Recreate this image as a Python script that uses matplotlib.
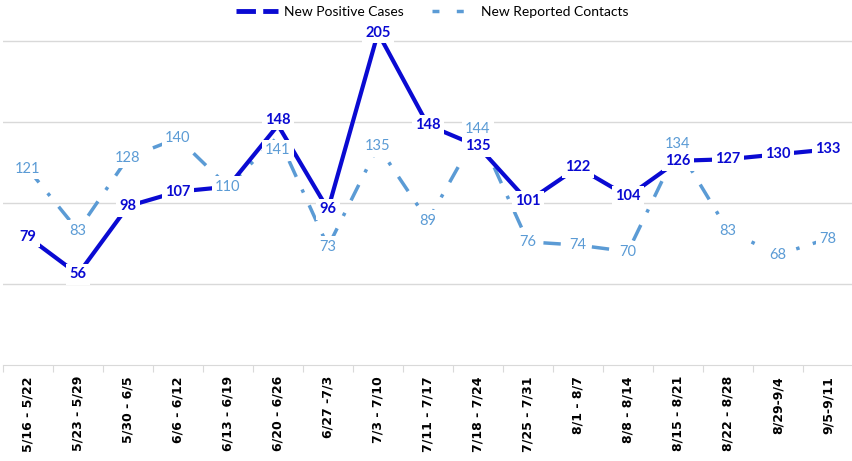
import matplotlib
matplotlib.use('Agg')
import matplotlib.pyplot as plt
from matplotlib.lines import Line2D
import numpy as np

weeks = ['5/16 - 5/22', '5/23 - 5/29', '5/30 - 6/5', '6/6 - 6/12', '6/13 - 6/19',
         '6/20 - 6/26', '6/27 -7/3', '7/3 - 7/10', '7/11 - 7/17', '7/18 - 7/24',
         '7/25 - 7/31', '8/1 - 8/7', '8/8 - 8/14', '8/15 - 8/21', '8/22 - 8/28',
         '8/29-9/4', '9/5-9/11']
positive = [79, 56, 98, 107, 110, 148, 96, 205, 148, 135, 101, 122, 104, 126, 127, 130, 133]
contacts = [121, 83, 128, 140, 110, 141, 73, 135, 89, 144, 76, 74, 70, 134, 83, 68, 78]

dark = '#0A0AD2'
light = '#5B9BD5'

fig = plt.figure(figsize=(8.53, 4.61), dpi=100)
ax = fig.add_axes([3/853, 96/461, 850/853, 350/461])

x = np.arange(len(weeks))
ax.plot(x, contacts, color=light, lw=2.5, linestyle=(0, (5, 4, 1, 4)), zorder=2)
ax.plot(x, positive, color=dark, lw=3, zorder=3)

# data labels with white background, nudge the ones that collide (points offset)
nudge_pos = {5: 4}
nudge_con = {5: -10, 9: 2, 13: 3}
for xi, v in zip(x, contacts):
    ax.annotate(str(v), (xi, v), xytext=(0, nudge_con.get(xi, 0)), textcoords='offset points',
                color=light, fontsize=10.5, family='Lato', ha='center', va='center',
                bbox=dict(facecolor='white', edgecolor='none', pad=2.5), zorder=4)
for xi, v in zip(x, positive):
    if xi == 4:
        continue
    ax.annotate(str(v), (xi, v), xytext=(0, nudge_pos.get(xi, 0)), textcoords='offset points',
                color=dark, fontsize=10.5, family='Lato', fontweight='bold', ha='center', va='center',
                bbox=dict(facecolor='white', edgecolor='none', pad=2.5), zorder=5)

ax.set_xlim(-0.5, len(weeks) - 0.5)
ax.set_ylim(0, 216)
ax.set_yticks([50, 100, 150, 200])
ax.yaxis.grid(True, color='#D9D9D9', lw=1)
ax.set_axisbelow(True)
ax.tick_params(axis='y', left=False, labelleft=False)
for s in ['top', 'right', 'left']:
    ax.spines[s].set_visible(False)
ax.spines['bottom'].set_color('#D9D9D9')

ax.set_xticks(np.arange(len(weeks) + 1) - 0.5)
ax.set_xticklabels([])
ax.set_xticks(x, minor=True)
ax.set_xticklabels(weeks, minor=True, rotation=90, fontsize=9, fontweight='bold', va='top')
ax.tick_params(axis='x', which='major', length=5, color='#D9D9D9')
ax.tick_params(axis='x', which='minor', length=0, pad=8)

handles = [Line2D([], [], color=dark, lw=3.5, dashes=(4, 1.5)),
           Line2D([], [], color=light, lw=2.5, dashes=(2, 5))]
fig.legend(handles, ['New Positive Cases', 'New Reported Contacts'], loc='center',
           bbox_to_anchor=(432/853, 1 - 12/461), ncol=2, frameon=False,
           prop={'family': 'Lato', 'size': 10}, handlelength=3, handletextpad=0.5, columnspacing=2)

fig.savefig('out.png', dpi=100)
